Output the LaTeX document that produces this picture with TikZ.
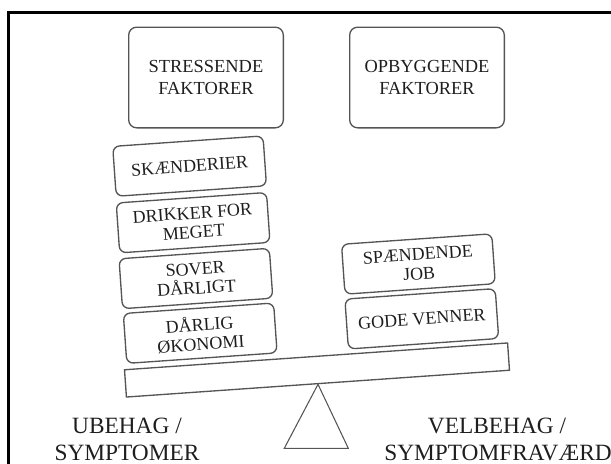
\documentclass[tikz,border=0pt]{standalone}
\usepackage{fontspec}
\setmainfont{Liberation Serif}
\definecolor{boxline}{HTML}{555555}
\definecolor{txt}{HTML}{1E1E1E}
\begin{document}
\begin{tikzpicture}[x=0.75pt,y=-0.75pt,
  topbox/.style={draw=boxline, line width=1pt, rounded corners=6pt,
    minimum width=116pt, minimum height=75.5pt, align=center, text=txt,
    font=\fontsize{13.8}{16}\selectfont, inner sep=0pt},
  tiltbox/.style={draw=boxline, line width=1pt, rounded corners=5pt,
    minimum width=113pt, minimum height=37.5pt, align=center, text=txt,
    font=\fontsize{13.5}{14.5}\selectfont, inner sep=0pt, rotate=4},
  plankbox/.style={draw=boxline, line width=1pt, minimum width=288pt,
    minimum height=20.5pt, inner sep=0pt, rotate=4},
  label/.style={anchor=base, text=txt, font=\fontsize{17.5}{20}\selectfont, inner sep=0pt},
  frame/.style={draw=black, line width=1.9pt}
]
\useasboundingbox (0,0) rectangle (611,464);
% outer frame
\coordinate (fbl) at (8.7,464);
\coordinate (ftl) at (8.7,12.3);
\coordinate (ftr) at (611,12.3);
\draw[frame] (fbl) -- (ftl) -- (ftr);

% header boxes
\node[topbox] (stress) at (206,77.5) {STRESSENDE\\FAKTORER};
\node[topbox] (opbyg) at (427,77.5) {OPBYGGENDE\\FAKTORER};

% left stack
\node[tiltbox] (skaend) at (189.6,166.1) {SKÆNDERIER};
\node[tiltbox] (drikker) at (193.1,222.7) {DRIKKER FOR\\MEGET};
\node[tiltbox] (sover) at (195.9,278.5) {SOVER\\DÅRLIGT};
\node[tiltbox] (oekonomi) at (200.2,333.2) {DÅRLIG\\ØKONOMI};

% right stack
\node[tiltbox] (job) at (418.4,264) {SPÆNDENDE\\JOB};
\node[tiltbox] (venner) at (421.8,318.8) {GODE VENNER};

% seesaw
\node[plankbox] (plank) at (317,370) {};
\coordinate (tbl) at (284.3,448.3);
\coordinate (tbr) at (348.3,448.3);
\draw[draw=boxline, line width=0.8pt, line join=miter] (plank.south) -- (tbl) -- (tbr) -- cycle;

% bottom labels
\node[label] (ub1) at (127,433) {UBEHAG /};
\node[label] (ub2) at (127,460) {SYMPTOMER};
\node[label] (vb1) at (497,433) {VELBEHAG /};
\node[label] (vb2) at (498,460) {SYMPTOMFRAVÆRD};
\end{tikzpicture}
\end{document}
